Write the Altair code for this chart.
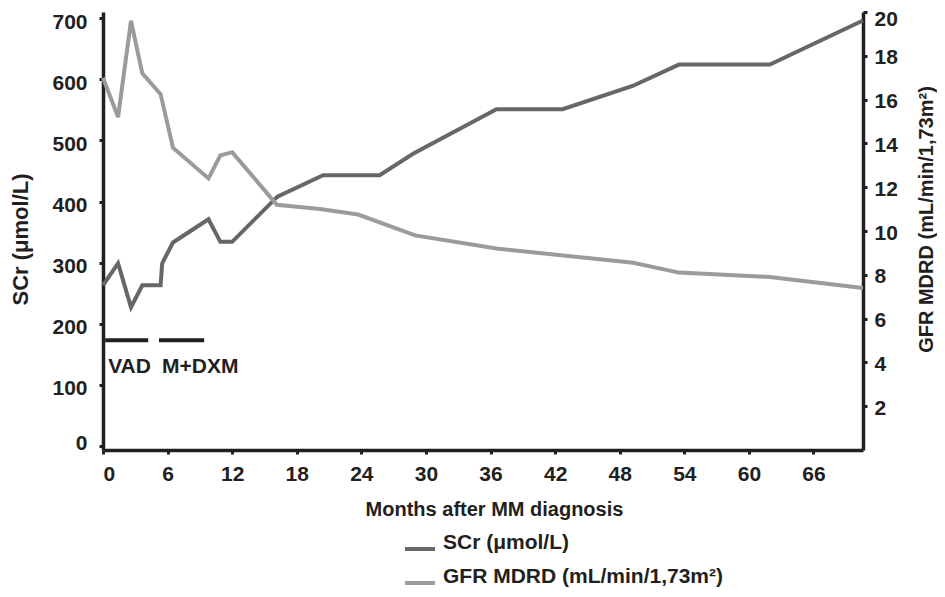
import altair as alt
import pandas as pd

# ---- data ----
months_scr = [0, 1.4, 2.6, 3.65, 5.35, 5.5, 6.5, 9.8, 10.9, 12.0, 16.2, 20.45,
              25.7, 28.8, 36.55, 42.7, 49.2, 53.5, 61.95, 70.6]
scr_values = [263, 299, 227, 263, 263, 299, 333, 371, 334, 334, 408, 443,
              443, 478, 551, 551, 589, 624, 624, 696]

months_gfr = [0, 1.4, 2.6, 3.65, 5.35, 6.5, 9.8, 10.9, 12.0, 16.15, 20.15,
              23.7, 29.0, 36.55, 49.25, 53.5, 61.95, 70.6]
gfr_values = [17.0, 15.2, 19.6, 17.2, 16.25, 13.8, 12.4, 13.45, 13.6, 11.2,
              11.0, 10.75, 9.8, 9.2, 8.55, 8.1, 7.9, 7.4]

treatments = ["VAD", "M+DXM"]
treat_start = [0.2, 5.2]
treat_end = [4.2, 9.4]
treat_level = [173, 173]

x_ticks = [0, 6, 12, 18, 24, 30, 36, 42, 48, 54, 60, 66]
left_ticks = [0, 100, 200, 300, 400, 500, 600, 700]
right_ticks = [2, 4, 6, 8, 10, 12, 14, 16, 18, 20]

SCR_LABEL = "SCr (\u03bcmol/L)"
GFR_LABEL = "GFR MDRD (mL/min/1,73m\u00b2)"

INK = "#231f20"
FONT = "Liberation Sans"

scr_df = pd.DataFrame({"month": months_scr, "SCr": scr_values, "series": SCR_LABEL})
gfr_df = pd.DataFrame({"month": months_gfr, "GFR": gfr_values, "series": GFR_LABEL})
treat_df = pd.DataFrame({"name": treatments, "start": treat_start,
                         "end": treat_end, "level": treat_level})

x_scale = alt.Scale(domain=[0, 70.6], nice=False, zero=False)
left_scale = alt.Scale(domain=[-6.5, 710], nice=False, zero=False)
right_scale = alt.Scale(domain=[0, 20], nice=False)
color_scale = alt.Scale(domain=[SCR_LABEL, GFR_LABEL], range=["#676767", "#9b9b9b"])

x_axis = alt.Axis(values=x_ticks, title="Months after MM diagnosis", grid=False,
                  labelFontSize=21, labelFontWeight="bold", labelColor=INK,
                  labelPadding=9, tickSize=4, tickWidth=3, tickColor=INK,
                  domainColor=INK, domainWidth=3.5, titleFontSize=20,
                  titleFontWeight="bold", titleColor=INK, titlePadding=15,
                  titleX=391, titleAlign="center")

left_axis = alt.Axis(values=left_ticks, title=SCR_LABEL, grid=False,
                     labelFontSize=21, labelFontWeight="bold", labelColor=INK,
                     labelPadding=12, tickSize=4, tickWidth=3, tickColor=INK,
                     labelOffset={"condition": {"test": "datum.value == 0", "value": -3}, "value": 4},
                     domainColor=INK, domainWidth=3.5, titleFontSize=22,
                     titleFontWeight="bold", titleColor=INK, titlePadding=19,
                     titleY=227, titleAlign="center")

right_axis = alt.Axis(values=right_ticks, orient="right", title=GFR_LABEL,
                      grid=False, labelFontSize=21, labelFontWeight="bold",
                      labelColor=INK, labelPadding=7, tickSize=4, tickWidth=3,
                      labelOffset={"condition": {"test": "datum.value == 20", "value": 7}, "value": 2},
                      tickColor=INK, domainColor=INK, domainWidth=3.5,
                      titleFontSize=20, titleFontWeight="bold", titleColor=INK,
                      titlePadding=39, titleAngle=270, titleY=207, titleAlign="center")

legend = alt.Legend(orient="none", legendX=300, legendY=520, title=None,
                    direction="vertical", symbolType="stroke", symbolSize=900,
                    symbolStrokeWidth=4, labelFontSize=21, labelFontWeight="bold",
                    labelColor=INK, labelFont=FONT, labelOffset=6, labelLimit=600,
                    rowPadding=9, labelBaseline="alphabetic")

scr_line = alt.Chart(scr_df).mark_line(strokeWidth=4).encode(
    x=alt.X("month:Q", scale=x_scale, axis=x_axis),
    y=alt.Y("SCr:Q", scale=left_scale, axis=left_axis),
    color=alt.Color("series:N", scale=color_scale, legend=legend),
)

treat_rule = alt.Chart(treat_df).mark_rule(strokeWidth=4, color=INK).encode(
    x=alt.X("start:Q", scale=x_scale, axis=x_axis),
    x2="end:Q",
    y=alt.Y("level:Q", scale=left_scale, axis=left_axis),
)

treat_text = alt.Chart(treat_df).mark_text(
    align="left", baseline="middle", dx=3, dy=27, fontSize=21,
    fontWeight="bold", color=INK, font=FONT,
).encode(
    x=alt.X("start:Q", scale=x_scale, axis=x_axis),
    y=alt.Y("level:Q", scale=left_scale, axis=left_axis),
    text="name:N",
)

gfr_line = alt.Chart(gfr_df).mark_line(strokeWidth=4).encode(
    x=alt.X("month:Q", scale=x_scale, axis=x_axis),
    y=alt.Y("GFR:Q", scale=right_scale, axis=right_axis),
    color=alt.Color("series:N", scale=color_scale, legend=legend),
)

chart = alt.layer(
    alt.layer(scr_line, treat_rule, treat_text),
    gfr_line,
).resolve_scale(y="independent").properties(
    width=760,
    height=438,
    padding={"left": 95, "top": 4, "right": 74, "bottom": 139},
    autosize=alt.AutoSizeParams(type="none"),
).configure(font=FONT).configure_view(strokeWidth=0)

chart.save("out.html", embed_options={"renderer": "svg", "actions": False})
